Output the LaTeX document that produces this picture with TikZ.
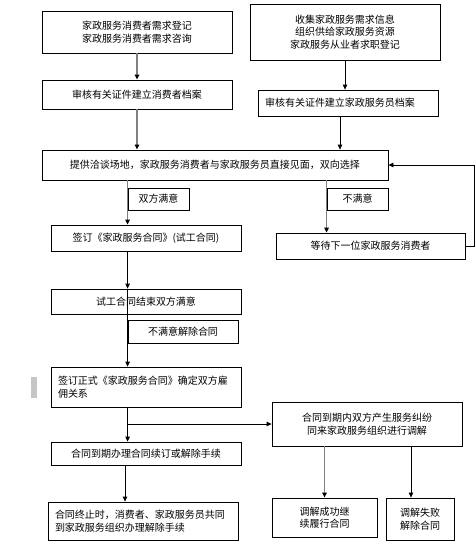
\documentclass[tikz,border=0pt]{standalone}
\usepackage{fontspec}
\setmainfont{Noto Sans CJK SC}
\usetikzlibrary{calc,arrows.meta}

\begin{document}
\begin{tikzpicture}[x=1pt,y=-1pt,
  every node/.style={font=\fontsize{10}{12.5}\selectfont},
  block/.style={draw,line width=0.8pt,inner sep=0pt,align=center},
  leftblk/.style={block,align=left,inner xsep=7pt},
  tag/.style={block,minimum height=22pt},
  arrow/.style={-{Triangle[length=5pt,width=4.5pt]},line width=0.8pt},
  grayarrow/.style={draw=gray,line width=1.4pt,-{Triangle[length=5pt,width=4.5pt,color=black]}}]
\useasboundingbox (0,0) rectangle (475,550);
\node[block,minimum width=190pt,minimum height=42pt] (demand) at (137,32) {家政服务消费者需求登记\\家政服务消费者需求咨询};
\node[block,minimum width=190pt,minimum height=56pt] (collect) at (345,32) {收集家政服务需求信息\\组织供给家政服务资源\\家政服务从业者求职登记};
\node[block,minimum width=190pt,minimum height=29pt] (checkclient) at (137,94.5) {审核有关证件建立消费者档案};
\node[leftblk,text width=166pt,minimum height=26pt] (checkworker) at (348,103) {审核有关证件建立家政服务员档案};
\node[block,minimum width=346pt,minimum height=30pt] (meet) at (215,165) {提供洽谈场地，家政服务消费者与家政服务员直接见面，双向选择};
\node[tag,minimum width=61pt] (agree) at (158.5,199) {双方满意};
\node[tag,minimum width=61pt] (refuse) at (357.5,199) {不满意};
\node[block,minimum width=190pt,minimum height=26pt] (trial) at (146,238) {签订《家政服务合同》(试工合同)};
\node[block,minimum width=189pt,minimum height=26pt] (wait) at (370.5,246) {等待下一位家政服务消费者};
\node[block,minimum width=190pt,minimum height=25pt] (trialend) at (146,301.5) {试工合同结束双方满意};
\node[tag,minimum width=110pt,minimum height=23pt] (cancel) at (183,331.5) {不满意解除合同};
\node[leftblk,text width=176pt,minimum height=40pt] (formal) at (146,387) {签订正式《家政服务合同》确定双方雇\\佣关系};
\node[block,minimum width=190pt,minimum height=44pt] (dispute) at (367,424) {合同到期内双方产生服务纠纷\\同来家政服务组织进行调解};
\node[block,minimum width=190pt,minimum height=23pt] (renew) at (146,453.5) {合同到期办理合同续订或解除手续};
\node[leftblk,text width=176pt,minimum height=38pt] (terminate) at (143,521) {合同终止时，消费者、家政服务员共同\\到家政服务组织办理解除手续};
\node[block,minimum width=105pt,minimum height=39pt] (mediateok) at (324.5,517.5) {调解成功继\\续履行合同};
\node[block,minimum width=68pt,minimum height=42pt] (mediatefail) at (420,519) {调解失败\\解除合同};
\fill[gray!45] (31,377) rectangle (37,398);
% connectors
\coordinate (cw) at ($(checkworker.south)+(-8,0)$);
\coordinate (rt) at ($(terminate.north)+(-18,0)$);
\coordinate (mf) at ($(mediatefail.north)+(-9,0)$);
\draw[grayarrow] (demand) -- (checkclient);
\draw[grayarrow] (checkclient.south) -- (checkclient.south |- meet.north);
\draw[arrow] (collect.south) -- (collect.south |- checkworker.north);
\draw[arrow] (cw) -- (cw |- meet.north);
\draw[grayarrow] (agree.west |- meet.south) -- (agree.west |- trial.north);
\draw[grayarrow] (refuse.west |- meet.south) -- (refuse.west |- wait.north);
\draw[arrow] (wait.east) -- ++(9,0) |- (meet.east);
\draw[arrow] (agree.west |- trial.south) -- (agree.west |- trialend.north);
\draw[arrow] (cancel.west |- trialend.north) -- (cancel.west |- formal.north);
\draw[arrow] (cancel.west |- formal.south) -- (cancel.west |- renew.north);
\draw[arrow] (cancel.west |- dispute.west) -- (dispute.west);
\draw[arrow] (rt |- renew.south) -- (rt);
\draw[grayarrow] (mediateok.north |- dispute.south) -- (mediateok.north);
\draw[arrow] (mf |- dispute.south) -- (mf);
\end{tikzpicture}
\end{document}
